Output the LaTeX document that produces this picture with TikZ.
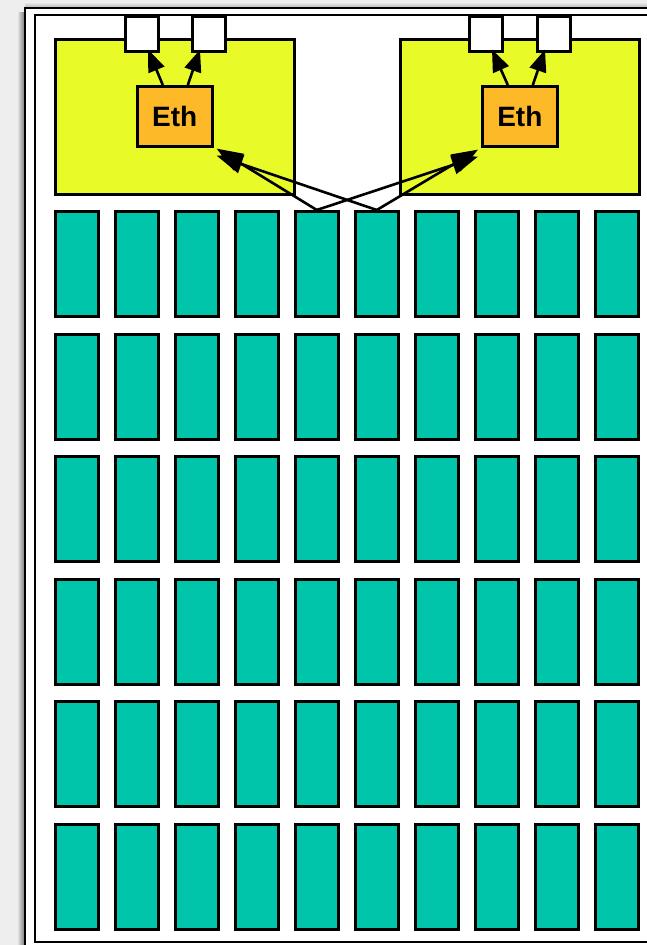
\documentclass[tikz,border=0pt]{standalone}
\usepackage{fontspec}
\setmainfont{Liberation Sans}
\usetikzlibrary{arrows.meta}
\definecolor{bgc}{RGB}{238,238,238}
\definecolor{yel}{RGB}{232,250,40}
\definecolor{orng}{RGB}{253,185,40}
\definecolor{teal2}{RGB}{0,197,170}
\tikzset{
  lw/.style={line width=2.6pt},
  core/.style={draw=black,lw,fill=teal2,minimum width=43pt,minimum height=105pt,inner sep=0pt,anchor=north west},
  region/.style={draw=black,lw,fill=yel,minimum width=239pt,minimum height=155pt,inner sep=0pt,anchor=north west},
  port/.style={draw=black,lw,fill=white,minimum width=33pt,minimum height=35pt,inner sep=0pt,anchor=north west},
  ethbox/.style={draw=black,lw,fill=orng,minimum width=75pt,minimum height=60pt,inner sep=0pt,anchor=north west,font=\fontsize{28}{30}\selectfont\bfseries},
  arr/.style={lw,-{Triangle[length=26pt,width=19pt]}},
  sarr/.style={lw,-{Triangle[length=22pt,width=17pt]}}
}
\begin{document}
\begin{tikzpicture}[x=1pt,y=-1pt]
\useasboundingbox (0,0) rectangle (647,945);
\clip (0,0) rectangle (647,945);
\fill[bgc] (0,0) rectangle (647,945);
\shade[left color=bgc,right color=black!55] (17,12) rectangle (25,950);
\shade[top color=bgc,bottom color=black!30] (25,2) rectangle (660,8);
% frames
\draw[lw,fill=white] (25,8) rectangle (670,960);
\draw[lw,fill=white] (35,15) rectangle (660,942);
% regions
\node[region] (r1) at (54,38) {};
\node[region] (r2) at (399,38) {};
% ports
\node[port] (p1) at (124,15) {};
\node[port] (p2) at (191,15) {};
\node[port] (p3) at (468,15) {};
\node[port] (p4) at (536,15) {};
\draw[lw] (35,15) -- (660,15);
% eth
\node[ethbox] (eth1) at (136,85) {Eth};
\node[ethbox] (eth2) at (481,85) {Eth};
% cores
\foreach \r/\y in {1/210,2/333,3/455,4/578,5/700,6/823}{
  \foreach \k in {0,...,9}{
    \node[core] (c-\r-\k) at ({54+60*\k},\y) {};
  }
}
% port arrows
\draw[sarr] ([xshift=-12pt]eth1.north) -- ([xshift=24pt,yshift=3pt]p1.south west);
\draw[sarr] ([xshift=13pt]eth1.north) -- ([xshift=9pt,yshift=3pt]p2.south west);
\draw[sarr] ([xshift=-12pt]eth2.north) -- ([xshift=24pt,yshift=3pt]p3.south west);
\draw[sarr] ([xshift=13pt]eth2.north) -- ([xshift=9pt,yshift=3pt]p4.south west);
% crossing arrows
\draw[arr] (c-1-4.north) -- ([xshift=3pt,yshift=-1pt]eth1.south east);
\draw[arr] (c-1-5.north) -- ([xshift=3pt,yshift=-8pt]eth1.south east);
\draw[arr] (c-1-4.north) -- ([xshift=-3pt,yshift=-9pt]eth2.south west);
\draw[arr] (c-1-5.north) -- ([xshift=-3pt,yshift=-2pt]eth2.south west);
\end{tikzpicture}
\end{document}
